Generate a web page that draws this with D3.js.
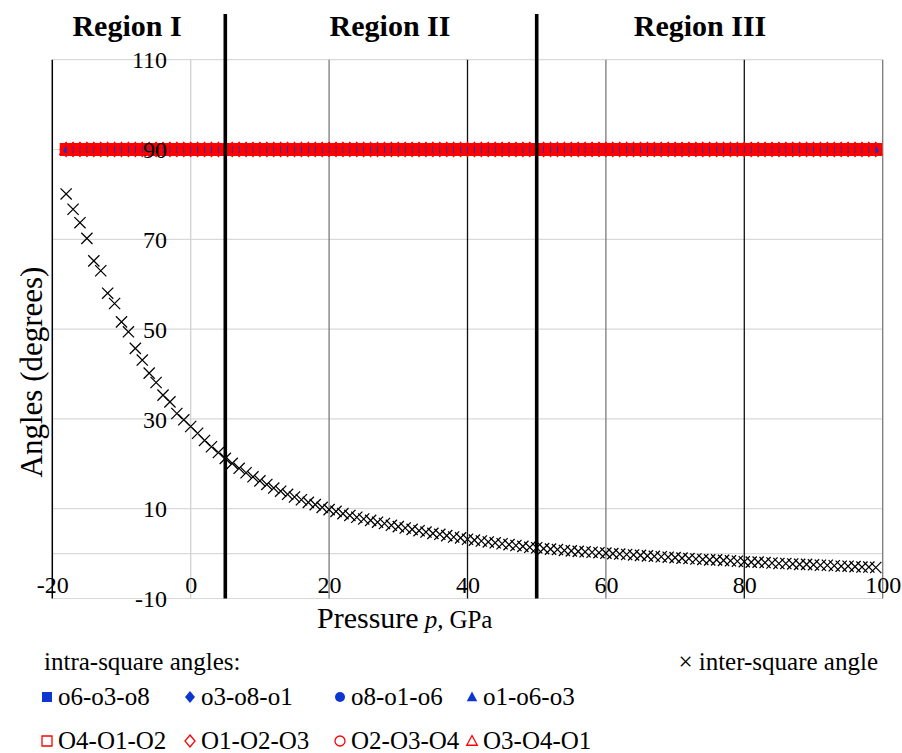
<!DOCTYPE html>
<html>
<head>
<meta charset="utf-8">
<script src="https://cdn.jsdelivr.net/npm/d3@7"></script>
<style>
  html, body { margin: 0; padding: 0; background: #fff; }
  svg { display: block; font-family: "Liberation Serif", "DejaVu Serif", serif; }
</style>
</head>
<body>
<svg id="chart" width="902" height="753"></svg>
<script>
// Pressure points (GPa)
const pressure = [
  -18, -17, -16, -15, -14, -13, -12, -11, -10, -9,
  -8, -7, -6, -5, -4, -3, -2, -1,
  0, 1, 2, 3, 4, 5, 6, 7, 8, 9,
  10, 11, 12, 13, 14, 15, 16, 17, 18, 19,
  20, 21, 22, 23, 24, 25, 26, 27, 28, 29,
  30, 31, 32, 33, 34, 35, 36, 37, 38, 39,
  40, 41, 42, 43, 44, 45, 46, 47, 48, 49,
  50, 51, 52, 53, 54, 55, 56, 57, 58, 59,
  60, 61, 62, 63, 64, 65, 66, 67, 68, 69,
  70, 71, 72, 73, 74, 75, 76, 77, 78, 79,
  80, 81, 82, 83, 84, 85, 86, 87, 88, 89,
  90, 91, 92, 93, 94, 95, 96, 97, 98, 99
];

// Inter-square angle (degrees)
const interSquare = [
  80.1, 76.7, 73.7, 70.2, 65.2, 63.0, 58.0, 55.7, 51.6, 49.4,
  45.7, 43.1, 40.2, 38.1, 35.3, 33.8, 31.2, 29.8,
  28.3, 26.8, 25.2, 23.8, 22.5, 21.2, 20.1, 19.0, 18.0, 17.1,
  16.2, 15.4, 14.6, 13.9, 13.2, 12.6, 12.0, 11.4, 10.9, 10.3,
  9.8, 9.4, 8.9, 8.5, 8.1, 7.7, 7.4, 7.0, 6.7, 6.3,
  6.0, 5.7, 5.4, 5.1, 4.8, 4.5, 4.3, 4.0, 3.7, 3.5,
  3.2, 3.0, 2.8, 2.6, 2.4, 2.2, 2.0, 1.8, 1.6, 1.4,
  1.3, 1.1, 1.0, 0.9, 0.7, 0.6, 0.5, 0.4, 0.3, 0.2,
  0.1, 0.0, -0.1, -0.2, -0.3, -0.4, -0.5, -0.6, -0.7, -0.8,
  -0.9, -1.0, -1.1, -1.2, -1.3, -1.4, -1.4, -1.5, -1.6, -1.7,
  -1.8, -1.9, -1.9, -2.0, -2.1, -2.2, -2.2, -2.3, -2.4, -2.4,
  -2.5, -2.6, -2.6, -2.7, -2.8, -2.8, -2.9, -3.0, -3.0, -3.1
];

// Intra-square angles (degrees), lower-case squares
const o6o3o8 = [90,90,90,90,90,90,90,90,90,90, 90,90,90,90,90,90,90,90,90,90, 90,90,90,90,90,90,90,90,90,90, 90,90,90,90,90,90,90,90,90,90, 90,90,90,90,90,90,90,90,90,90, 90,90,90,90,90,90,90,90,90,90, 90,90,90,90,90,90,90,90,90,90, 90,90,90,90,90,90,90,90,90,90, 90,90,90,90,90,90,90,90,90,90, 90,90,90,90,90,90,90,90,90,90, 90,90,90,90,90,90,90,90,90,90, 90,90,90,90,90,90,90,90];
const o3o8o1 = [90,90,90,90,90,90,90,90,90,90, 90,90,90,90,90,90,90,90,90,90, 90,90,90,90,90,90,90,90,90,90, 90,90,90,90,90,90,90,90,90,90, 90,90,90,90,90,90,90,90,90,90, 90,90,90,90,90,90,90,90,90,90, 90,90,90,90,90,90,90,90,90,90, 90,90,90,90,90,90,90,90,90,90, 90,90,90,90,90,90,90,90,90,90, 90,90,90,90,90,90,90,90,90,90, 90,90,90,90,90,90,90,90,90,90, 90,90,90,90,90,90,90,90];
const o8o1o6 = [90,90,90,90,90,90,90,90,90,90, 90,90,90,90,90,90,90,90,90,90, 90,90,90,90,90,90,90,90,90,90, 90,90,90,90,90,90,90,90,90,90, 90,90,90,90,90,90,90,90,90,90, 90,90,90,90,90,90,90,90,90,90, 90,90,90,90,90,90,90,90,90,90, 90,90,90,90,90,90,90,90,90,90, 90,90,90,90,90,90,90,90,90,90, 90,90,90,90,90,90,90,90,90,90, 90,90,90,90,90,90,90,90,90,90, 90,90,90,90,90,90,90,90];
const o1o6o3 = [90,90,90,90,90,90,90,90,90,90, 90,90,90,90,90,90,90,90,90,90, 90,90,90,90,90,90,90,90,90,90, 90,90,90,90,90,90,90,90,90,90, 90,90,90,90,90,90,90,90,90,90, 90,90,90,90,90,90,90,90,90,90, 90,90,90,90,90,90,90,90,90,90, 90,90,90,90,90,90,90,90,90,90, 90,90,90,90,90,90,90,90,90,90, 90,90,90,90,90,90,90,90,90,90, 90,90,90,90,90,90,90,90,90,90, 90,90,90,90,90,90,90,90];
// Intra-square angles (degrees), upper-case squares
const O4O1O2 = [90,90,90,90,90,90,90,90,90,90, 90,90,90,90,90,90,90,90,90,90, 90,90,90,90,90,90,90,90,90,90, 90,90,90,90,90,90,90,90,90,90, 90,90,90,90,90,90,90,90,90,90, 90,90,90,90,90,90,90,90,90,90, 90,90,90,90,90,90,90,90,90,90, 90,90,90,90,90,90,90,90,90,90, 90,90,90,90,90,90,90,90,90,90, 90,90,90,90,90,90,90,90,90,90, 90,90,90,90,90,90,90,90,90,90, 90,90,90,90,90,90,90,90];
const O1O2O3 = [90,90,90,90,90,90,90,90,90,90, 90,90,90,90,90,90,90,90,90,90, 90,90,90,90,90,90,90,90,90,90, 90,90,90,90,90,90,90,90,90,90, 90,90,90,90,90,90,90,90,90,90, 90,90,90,90,90,90,90,90,90,90, 90,90,90,90,90,90,90,90,90,90, 90,90,90,90,90,90,90,90,90,90, 90,90,90,90,90,90,90,90,90,90, 90,90,90,90,90,90,90,90,90,90, 90,90,90,90,90,90,90,90,90,90, 90,90,90,90,90,90,90,90];
const O2O3O4 = [90,90,90,90,90,90,90,90,90,90, 90,90,90,90,90,90,90,90,90,90, 90,90,90,90,90,90,90,90,90,90, 90,90,90,90,90,90,90,90,90,90, 90,90,90,90,90,90,90,90,90,90, 90,90,90,90,90,90,90,90,90,90, 90,90,90,90,90,90,90,90,90,90, 90,90,90,90,90,90,90,90,90,90, 90,90,90,90,90,90,90,90,90,90, 90,90,90,90,90,90,90,90,90,90, 90,90,90,90,90,90,90,90,90,90, 90,90,90,90,90,90,90,90];
const O3O4O1 = [90,90,90,90,90,90,90,90,90,90, 90,90,90,90,90,90,90,90,90,90, 90,90,90,90,90,90,90,90,90,90, 90,90,90,90,90,90,90,90,90,90, 90,90,90,90,90,90,90,90,90,90, 90,90,90,90,90,90,90,90,90,90, 90,90,90,90,90,90,90,90,90,90, 90,90,90,90,90,90,90,90,90,90, 90,90,90,90,90,90,90,90,90,90, 90,90,90,90,90,90,90,90,90,90, 90,90,90,90,90,90,90,90,90,90, 90,90,90,90,90,90,90,90];

const intraNames = ["o6-o3-o8", "o3-o8-o1", "o8-o1-o6", "o1-o6-o3", "O4-O1-O2", "O1-O2-O3", "O2-O3-O4", "O3-O4-O1"];
const interName = "inter-square angle";
const legendHeading = "intra-square angles:";

// Axes
const xTicks = [-20, 0, 20, 40, 60, 80, 100];
const yTicks = [110, 90, 70, 50, 30, 10, -10];
const yGridValues = [110, 90, 70, 50, 30, 10, 0, -10];
const xTitle = "Pressure";
const xTitleVar = "p,";
const xTitleUnit = "GPa";
const yTitle = "Angles (degrees)";

// Pressure regions
const regionNames = ["Region I", "Region II", "Region III"];
const regionBounds = [5, 50];
const regionLabelAt = [-9.2, 28.8, 73.6];

// ---------------------------------------------------------------
const BLUE = "#0b36d0";
const RED = "#ff0000";
const FONT = '"Liberation Serif", "DejaVu Serif", serif';
const plainNumber = d => String(d);   // keeps the ASCII hyphen for negatives

const svg = d3.select("#chart");
const x = d3.scaleLinear().domain([-20, 100]).range([52.3, 882.7]);
const y = d3.scaleLinear().domain([-10, 110]).range([598.5, 59.7]);

// marker outline for a given shape and half-size
function shapePath(shape, r) {
  const p = d3.path();
  if (shape === "square") {
    p.rect(-r, -r, 2 * r, 2 * r);
  } else if (shape === "diamond") {
    p.moveTo(0, -r * 1.2); p.lineTo(r, 0); p.lineTo(0, r * 1.2); p.lineTo(-r, 0); p.closePath();
  } else if (shape === "circle") {
    p.arc(0, 0, r, 0, 2 * Math.PI); p.closePath();
  } else if (shape === "triangle") {
    p.moveTo(0, -r * 1.1); p.lineTo(r * 1.05, r * 0.85); p.lineTo(-r * 1.05, r * 0.85); p.closePath();
  } else if (shape === "cross") {
    p.moveTo(-r, -r); p.lineTo(r, r); p.moveTo(-r, r); p.lineTo(r, -r);
  }
  return p.toString();
}

// horizontal gridlines
svg.append("g").selectAll("line").data(yGridValues).join("line")
  .attr("x1", x(-20)).attr("x2", x(100))
  .attr("y1", d => y(d)).attr("y2", d => y(d))
  .attr("stroke", "#d9d9d9").attr("stroke-width", 1.2);

// vertical lines at the pressure ticks
const vColor = d => d === -20 ? "#000" : d === 0 ? "#d2d2d2" : (d === 40 || d === 80) ? "#111" : "#7a7a7a";
svg.append("g").selectAll("line").data(xTicks).join("line")
  .attr("x1", d => x(d)).attr("x2", d => x(d))
  .attr("y1", y(110)).attr("y2", y(-10))
  .attr("stroke", vColor)
  .attr("stroke-width", d => d === -20 ? 1.5 : 1.3);

// intra-square series: filled blue first, open red on top
const intraValues = [o6o3o8, o3o8o1, o8o1o6, o1o6o3, O4O1O2, O1O2O3, O2O3O4, O3O4O1];
const shapes = ["square", "diamond", "circle", "triangle"];
const intraSeries = intraNames.map((name, i) => ({
  name, values: intraValues[i], shape: shapes[i % 4], filled: i < 4
}));

const seriesG = svg.append("g");
intraSeries.forEach(s => {
  const g = seriesG.append("g");
  g.selectAll("path").data(s.values).join("path")
    .attr("transform", (v, i) => `translate(${x(pressure[i])},${y(v)})`)
    .attr("d", shapePath(s.shape, s.filled ? 4.5 : 5.4))
    .attr("fill", s.filled ? BLUE : "none")
    .attr("stroke", s.filled ? "none" : RED)
    .attr("stroke-width", s.filled ? 0 : 2);
});

// inter-square angle
seriesG.append("g").selectAll("path").data(interSquare).join("path")
  .attr("transform", (v, i) => `translate(${x(pressure[i])},${y(v)})`)
  .attr("d", shapePath("cross", 5.6))
  .attr("fill", "none").attr("stroke", "#000").attr("stroke-width", 1.25);

// region boundaries
svg.append("g").selectAll("line").data(regionBounds).join("line")
  .attr("x1", d => x(d)).attr("x2", d => x(d))
  .attr("y1", 14).attr("y2", y(-10))
  .attr("stroke", "#000").attr("stroke-width", 3.6);

svg.append("g").selectAll("text").data(regionNames).join("text")
  .attr("x", (d, i) => x(regionLabelAt[i]))
  .attr("y", 36)
  .attr("text-anchor", "middle")
  .attr("font-size", 30).attr("font-weight", "bold").attr("fill", "#000")
  .text(d => d);

// y tick labels
const yAxis = svg.append("g").attr("transform", "translate(170,0)")
  .call(d3.axisLeft(y).tickValues(yTicks).tickSize(0).tickPadding(3).tickFormat(plainNumber));
yAxis.attr("font-family", FONT).attr("font-size", 24);
yAxis.select(".domain").remove();
yAxis.selectAll("text").attr("fill", "#000").attr("dy", "0.34em");

// x tick labels
const xAxis = svg.append("g").attr("transform", "translate(0,593)")
  .call(d3.axisBottom(x).tickValues(xTicks).tickSize(0).tickPadding(0).tickFormat(plainNumber));
xAxis.attr("font-family", FONT).attr("font-size", 24);
xAxis.select(".domain").remove();
xAxis.selectAll("text").attr("fill", "#000").attr("y", 0).attr("dy", 0);

// axis titles
const xt = svg.append("text").attr("x", 317).attr("y", 628).attr("fill", "#000");
xt.append("tspan").attr("font-size", 30).text(xTitle);
xt.append("tspan").attr("font-size", 25).attr("font-style", "italic").attr("dx", 6).text(xTitleVar);
xt.append("tspan").attr("font-size", 25).attr("dx", 6).text(xTitleUnit);

svg.append("text")
  .attr("transform", "translate(42,372) rotate(-90)")
  .attr("text-anchor", "middle")
  .attr("font-size", 31).attr("fill", "#000")
  .text(yTitle);

// legend
const legend = svg.append("g");
legend.append("text").attr("x", 44).attr("y", 670).attr("font-size", 25).attr("fill", "#000").text(legendHeading);
legend.append("text").attr("x", 878).attr("y", 670).attr("text-anchor", "end").attr("font-size", 25).attr("fill", "#000")
  .text("\u00d7 " + interName);

const legendCols = [47, 190, 340, 472];
const legendRows = [697, 741];
intraSeries.forEach((s, i) => {
  const cx = legendCols[i % 4];
  const cy = legendRows[Math.floor(i / 4)];
  legend.append("path")
    .attr("transform", `translate(${cx},${cy})`)
    .attr("d", shapePath(s.shape, 5))
    .attr("fill", s.filled ? BLUE : "none")
    .attr("stroke", s.filled ? "none" : RED)
    .attr("stroke-width", 1.3);
  legend.append("text")
    .attr("x", cx + 11).attr("y", cy + 8)
    .attr("font-size", 25).attr("fill", "#000")
    .text(s.name);
});
</script>
</body>
</html>
